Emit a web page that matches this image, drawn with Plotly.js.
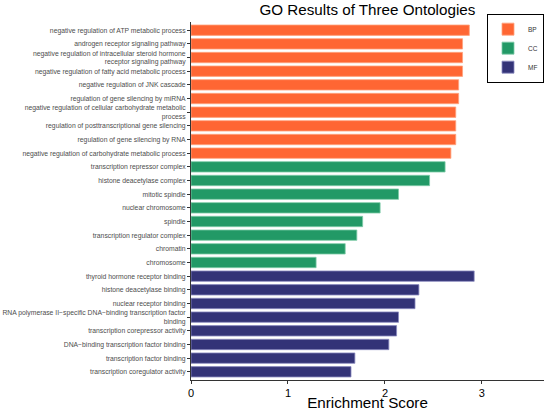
<!DOCTYPE html>
<html>
<head>
<meta charset="utf-8">
<script src="https://cdn.plot.ly/plotly-3.0.1.min.js"></script>
<style>html,body{margin:0;padding:0;background:#fff;}#chart{width:550px;height:411px;}</style>
</head>
<body>
<div id="chart"></div>
<script>
const bpTerms = [
  "negative regulation of ATP metabolic process",
  "androgen receptor signaling pathway",
  "negative regulation of intracellular steroid hormone<br>receptor signaling pathway",
  "negative regulation of fatty acid metabolic process",
  "negative regulation of JNK cascade",
  "regulation of gene silencing by miRNA",
  "negative regulation of cellular carbohydrate metabolic<br>process",
  "regulation of posttranscriptional gene silencing",
  "regulation of gene silencing by RNA",
  "negative regulation of carbohydrate metabolic process"
];
const bpScores = [2.87, 2.80, 2.80, 2.80, 2.76, 2.76, 2.73, 2.73, 2.73, 2.68];

const ccTerms = [
  "transcription repressor complex",
  "histone deacetylase complex",
  "mitotic spindle",
  "nuclear chromosome",
  "spindle",
  "transcription regulator complex",
  "chromatin",
  "chromosome"
];
const ccScores = [2.62, 2.46, 2.14, 1.95, 1.77, 1.71, 1.59, 1.29];

const mfTerms = [
  "thyroid hormone receptor binding",
  "histone deacetylase binding",
  "nuclear receptor binding",
  "RNA polymerase II\u2212specific DNA\u2212binding transcription factor<br>binding",
  "transcription corepressor activity",
  "DNA\u2212binding transcription factor binding",
  "transcription factor binding",
  "transcription coregulator activity"
];
const mfScores = [2.92, 2.35, 2.31, 2.14, 2.12, 2.04, 1.69, 1.65];

const xTicks = [0, 1, 2, 3];

const allTerms = bpTerms.concat(ccTerms, mfTerms);

function mk(name, terms, scores, color, lineColor) {
  return {
    type: 'bar', orientation: 'h', name: name,
    x: scores, y: terms,
    marker: {color: color, line: {color: lineColor, width: 0.8}},
    hoverinfo: 'x+y'
  };
}

const data = [
  mk('BP', bpTerms, bpScores, '#FF6633', '#FFA37F'),
  mk('CC', ccTerms, ccScores, '#229966', '#7FCCA8'),
  mk('MF', mfTerms, mfScores, '#333377', '#8C8CC0')
];

const layout = {
  width: 550, height: 411,
  margin: {l: 191, r: 6, t: 22, b: 30.5, pad: 0},
  paper_bgcolor: '#fff', plot_bgcolor: '#fff',
  font: {family: '"Liberation Sans", Arial, sans-serif', color: '#000'},
  title: {text: 'GO Results of Three Ontologies', font: {size: 15.2, color: '#000'},
          x: 0.668, xanchor: 'center', y: 0.977, yanchor: 'middle'},
  barmode: 'overlay',
  bargap: 0.24,
  xaxis: {
    range: [0, 3.64], tickvals: xTicks, ticktext: xTicks.map(String),
    showgrid: false, zeroline: false, showline: true, linecolor: '#333', linewidth: 1,
    ticks: 'outside', ticklen: 3, tickcolor: '#333', tickwidth: 1,
    tickfont: {size: 11, color: '#000'},
    title: {text: 'Enrichment Score', font: {size: 15.2, color: '#000'}, standoff: 7}
  },
  yaxis: {
    type: 'category', categoryorder: 'array', categoryarray: allTerms,
    range: [allTerms.length - 0.4, -0.6],
    showgrid: false, zeroline: false, showline: true, linecolor: '#333', linewidth: 1,
    ticks: 'outside', ticklen: 3, tickcolor: '#333', tickwidth: 1,
    tickfont: {size: 6.8, color: '#4D4D4D'}
  },
  legend: {
    x: 1.0, y: 0.927, xanchor: 'right', yanchor: 'middle',
    bgcolor: '#fff', bordercolor: '#000', borderwidth: 1,
    font: {size: 6.5, color: '#333'}, itemwidth: 30, tracegroupgap: 0
  },
  showlegend: true
};

Plotly.newPlot('chart', data, layout, {displayModeBar: false, staticPlot: true});
</script>
</body>
</html>
